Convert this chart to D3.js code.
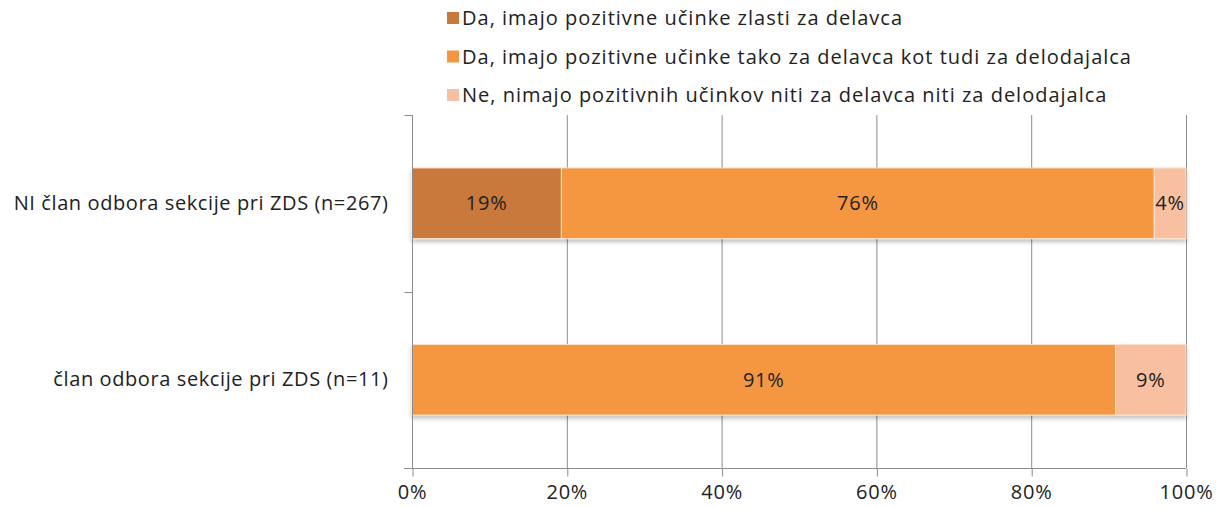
<!DOCTYPE html>
<html>
<head>
<meta charset="utf-8">
<script src="https://cdn.jsdelivr.net/npm/d3@7"></script>
<style>
  body { margin: 0; background: #fff; }
  svg text { font-family: "Open Sans", "DejaVu Sans", sans-serif; fill: #222; }
</style>
</head>
<body>
<svg id="chart" width="1216" height="507"></svg>
<script>
// categories (top to bottom)
var categories = ["NI član odbora sekcije pri ZDS (n=267)", "član odbora sekcije pri ZDS (n=11)"];
// series names
var seriesNames = [
    "Da, imajo pozitivne učinke zlasti za delavca",
    "Da, imajo pozitivne učinke tako za delavca kot tudi za delodajalca",
    "Ne, nimajo pozitivnih učinkov niti za delavca niti za delodajalca"
];
// values per series, one per category (percent)
var zlastiDelavec = [19.3, 0];
var obaSkupaj = [76.6, 90.9];
var nimajo = [4.1, 9.1];
var seriesLabels = [["19%", ""], ["76%", "91%"], ["4%", "9%"]];
var colors = ["#C8793A", "#F5963F", "#F8BFA0"];
var xTicks = [0, 20, 40, 60, 80, 100];

var svg = d3.select("#chart");
var plotLeft = 412, plotRight = 1186, plotTop = 115, plotBottom = 468;

var rows = categories.map(function (c, i) {
    return {cat: c, s0: zlastiDelavec[i], s1: obaSkupaj[i], s2: nimajo[i]};
});
var stacked = d3.stack().keys(["s0", "s1", "s2"])(rows);

var x = d3.scaleLinear().domain([0, 100]).range([plotLeft, plotRight]);
var y = d3.scaleBand().domain(categories).range([plotTop, plotBottom])
    .paddingInner(0.6).paddingOuter(0.3);

// shadow under the bars
var defs = svg.append("defs");
var f = defs.append("filter").attr("id", "shadow")
    .attr("x", "-5%").attr("y", "-20%").attr("width", "110%").attr("height", "160%");
f.append("feDropShadow").attr("dx", 0).attr("dy", 3).attr("stdDeviation", 2)
    .attr("flood-color", "#000").attr("flood-opacity", 0.25);

// gridlines
svg.append("g").selectAll("line").data(xTicks.slice(1)).enter().append("line")
    .attr("x1", function (d) { return x(d) + 0.5; })
    .attr("x2", function (d) { return x(d) + 0.5; })
    .attr("y1", plotTop).attr("y2", plotBottom)
    .attr("stroke", "#8c8c8c").attr("stroke-width", 1);

// bars
var barsG = svg.append("g").attr("filter", "url(#shadow)");
stacked.forEach(function (layer, si) {
    barsG.selectAll(".s" + si).data(layer).enter().append("rect")
        .attr("class", "s" + si)
        .attr("x", function (d) { return x(d[0]); })
        .attr("y", function (d) { return y(d.data.cat); })
        .attr("width", function (d) { return Math.max(0, x(d[1]) - x(d[0])); })
        .attr("height", y.bandwidth())
        .attr("fill", colors[si])
        .attr("stroke", "#fbe3d0").attr("stroke-width", 1);
});

// data labels
stacked.forEach(function (layer, si) {
    svg.append("g").selectAll("text").data(layer).enter().append("text")
        .attr("x", function (d) { return (x(d[0]) + x(d[1])) / 2; })
        .attr("y", function (d) { return y(d.data.cat) + y.bandwidth() / 2; })
        .attr("dy", "0.35em")
        .attr("text-anchor", "middle")
        .attr("font-size", 20).attr("letter-spacing", 0.8)
        .text(function (d, i) { return seriesLabels[si][i]; });
});

// x axis
var xAxis = d3.axisBottom(x).tickValues(xTicks)
    .tickFormat(function (d) { return d + "%"; })
    .tickSize(8).tickPadding(8);
var gx = svg.append("g").attr("transform", "translate(0," + (plotBottom + 0.5) + ")").call(xAxis);
gx.select(".domain").attr("stroke", "#8c8c8c").attr("d", "M" + (plotLeft - 8) + ",0H" + plotRight);
gx.selectAll(".tick line").attr("stroke", "#8c8c8c").attr("transform", "translate(0.5,0)");
gx.selectAll(".tick text").attr("font-size", 20).attr("letter-spacing", 0.8).attr("fill", "#222")
    .attr("font-family", "Open Sans, DejaVu Sans, sans-serif");

// y axis
var yAxis = d3.axisLeft(y).tickSize(0).tickPadding(24);
var gy = svg.append("g").attr("transform", "translate(" + (plotLeft + 0.5) + ",0)").call(yAxis);
gy.select(".domain").attr("stroke", "#8c8c8c").attr("d", "M0," + plotTop + "V" + plotBottom);
gy.selectAll(".tick text").attr("font-size", 20).attr("letter-spacing", 0.6).attr("fill", "#222")
    .attr("font-family", "Open Sans, DejaVu Sans, sans-serif");
// category boundary ticks
var bounds = [plotTop, (plotTop + plotBottom) / 2, plotBottom];
gy.selectAll(".bound").data(bounds).enter().append("line")
    .attr("class", "bound")
    .attr("x1", -8).attr("x2", 0)
    .attr("y1", function (d) { return Math.round(d) + 0.5; })
    .attr("y2", function (d) { return Math.round(d) + 0.5; })
    .attr("stroke", "#8c8c8c");

// legend
var legend = svg.append("g").attr("transform", "translate(447,18)");
var items = legend.selectAll("g").data(seriesNames).enter().append("g")
    .attr("transform", function (d, i) { return "translate(0," + (i * 38.5) + ")"; });
items.append("rect").attr("x", 0).attr("y", -6).attr("width", 12).attr("height", 12)
    .attr("fill", function (d, i) { return colors[i]; });
items.append("text").attr("x", 15).attr("dy", "0.35em").attr("font-size", 20)
    .attr("letter-spacing", 1)
    .text(function (d) { return d; });
</script>
</body>
</html>
